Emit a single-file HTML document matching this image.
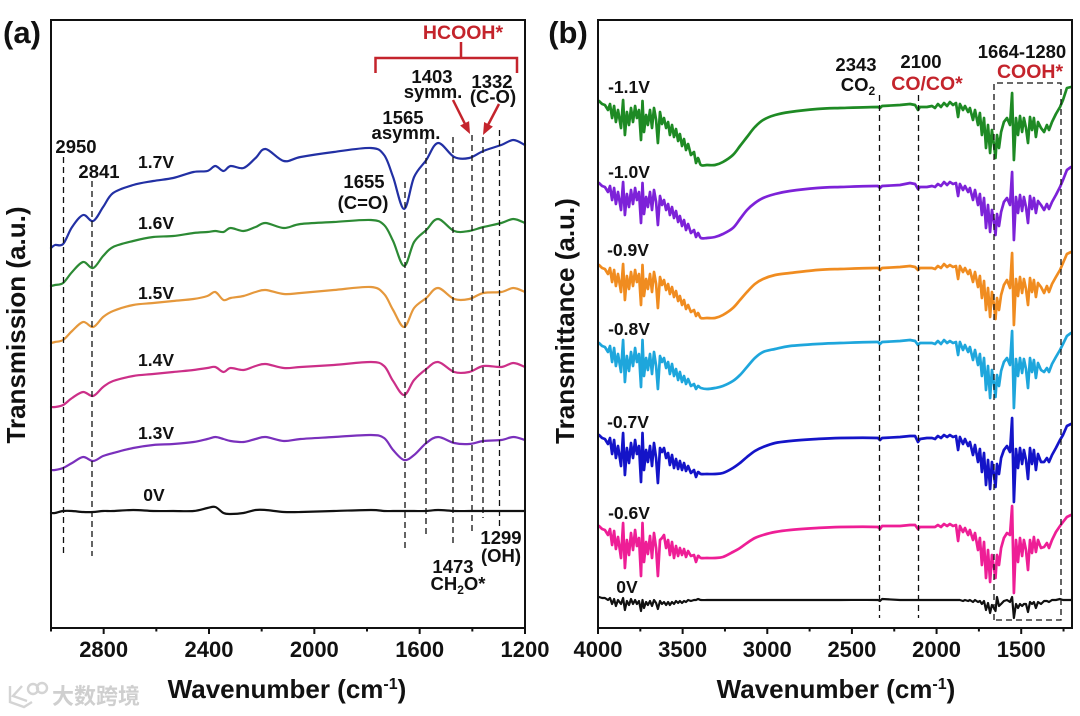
<!DOCTYPE html>
<html lang="en">
<head>
<meta charset="utf-8">
<title>FTIR spectra panels (a) and (b)</title>
<style>
html,body{margin:0;padding:0;background:#fff;}
svg{display:block;filter:blur(.35px);}
text{font-family:"Liberation Sans","Noto Sans CJK SC",sans-serif;font-weight:700;fill:#111;}
.lbl{font-size:18.5px;text-anchor:middle;}
.v{font-size:17.5px;text-anchor:middle;}
.red{fill:#c4242c;font-size:19.5px;text-anchor:middle;}
.tick{font-size:22px;text-anchor:middle;}
.title{font-size:26px;text-anchor:middle;}
.panel{font-size:31px;text-anchor:middle;}
.guide{stroke:#111;stroke-width:1.3;stroke-dasharray:6 4;fill:none;}
.frame{fill:none;stroke:#111;stroke-width:2;}
</style>
</head>
<body>
<svg id="fig" xmlns="http://www.w3.org/2000/svg" width="1080" height="716" viewBox="0 0 1080 716">
  <rect x="0" y="0" width="1080" height="716" fill="#fff"/>

  <!-- panel a -->
  <text class="panel" x="22" y="43">(a)</text>
  <g id="plotA"></g>
  <rect class="frame" x="51" y="20" width="474" height="608"/>
  <g>
    <line class="guide" x1="63.5" y1="157" x2="63.5" y2="554"/>
    <line class="guide" x1="92" y1="181" x2="92" y2="556"/>
    <line class="guide" x1="405" y1="182" x2="405" y2="551"/>
    <line class="guide" x1="426" y1="138" x2="426" y2="537"/>
    <line class="guide" x1="453" y1="137" x2="453" y2="547"/>
    <line class="guide" x1="472" y1="135" x2="472" y2="533"/>
    <line class="guide" x1="483" y1="137" x2="483" y2="518"/>
    <line class="guide" x1="499.5" y1="130" x2="499.5" y2="527"/>
  </g>
  <g fill="none" stroke="#c4242c" stroke-width="2.5">
    <path d="M375.5 73V58H517V73M461 42V58"/>
  </g>
  <g stroke="#c4242c" fill="#c4242c">
    <line x1="453" y1="100" x2="465" y2="124" stroke-width="2.5"/>
    <polygon stroke="none" points="470,134 469.1,121.1 460.1,125.5"/>
    <line x1="499" y1="104" x2="488" y2="125" stroke-width="2.5"/>
    <polygon stroke="none" points="483,135 492.9,126.6 484.1,122"/>
  </g>
  <text class="red" x="463" y="39">HCOOH*</text>
  <text class="lbl" x="76" y="153">2950</text>
  <text class="lbl" x="99" y="178">2841</text>
  <text class="lbl" x="432" y="83">1403</text>
  <text class="lbl" x="433" y="98">symm.</text>
  <text class="lbl" x="492" y="88">1332</text>
  <text class="lbl" x="493" y="103">(C-O)</text>
  <text class="lbl" x="403" y="124">1565</text>
  <text class="lbl" x="406" y="139">asymm.</text>
  <text class="lbl" x="364" y="188">1655</text>
  <text class="lbl" x="363" y="209">(C=O)</text>
  <text class="lbl" x="453" y="573">1473</text>
  <text class="lbl" x="458" y="590">CH<tspan font-size="12" dy="4">2</tspan><tspan dy="-4">O*</tspan></text>
  <text class="lbl" x="501" y="544">1299</text>
  <text class="lbl" x="501" y="562">(OH)</text>
  <text class="v" x="156" y="168">1.7V</text>
  <text class="v" x="156" y="229">1.6V</text>
  <text class="v" x="156" y="299">1.5V</text>
  <text class="v" x="156" y="366">1.4V</text>
  <text class="v" x="156" y="439">1.3V</text>
  <text class="v" x="154" y="501">0V</text>
  <text class="title" transform="translate(25,325) rotate(-90)">Transmission (a.u.)</text>
  <text class="title" x="287" y="698">Wavenumber (cm<tspan font-size="16" dy="-9">-1</tspan><tspan dy="9">)</tspan></text>

  <!-- panel b -->
  <text class="panel" x="568" y="43">(b)</text>
  <g id="plotB"></g>
  <rect class="frame" x="598" y="20" width="474" height="608"/>
  <g>
    <line class="guide" x1="879.5" y1="95" x2="879.5" y2="618"/>
    <line class="guide" x1="918.5" y1="95" x2="918.5" y2="618"/>
    <path class="guide" d="M994 620V83H1061V620Z"/>
  </g>
  <text class="lbl" x="856" y="71">2343</text>
  <text class="lbl" x="858" y="91">CO<tspan font-size="12" dy="4">2</tspan></text>
  <text class="lbl" x="921" y="68">2100</text>
  <text class="red" x="927" y="90">CO/CO*</text>
  <text class="lbl" x="1022" y="58">1664-1280</text>
  <text class="red" x="1030" y="78">COOH*</text>
  <text class="v" x="629" y="93">-1.1V</text>
  <text class="v" x="629" y="178">-1.0V</text>
  <text class="v" x="628" y="256">-0.9V</text>
  <text class="v" x="629" y="335">-0.8V</text>
  <text class="v" x="628" y="428">-0.7V</text>
  <text class="v" x="629" y="519">-0.6V</text>
  <text class="v" x="627" y="593">0V</text>
  <text class="title" transform="translate(574,321) rotate(-90)">Transmittance (a.u.)</text>
  <text class="title" x="836" y="698">Wavenumber (cm<tspan font-size="16" dy="-9">-1</tspan><tspan dy="9">)</tspan></text>

  <!-- watermark -->
  <g>
    <g fill="none" stroke="#d4d4d4" stroke-width="2.4">
      <path d="M10 686V702L24 707L32 702M22 686L13 696L27 701"/>
      <circle cx="33" cy="689" r="5"/>
      <circle cx="42" cy="688" r="5"/>
    </g>
    <text x="52" y="704" font-size="22" style="fill:#cfcfcf;font-weight:700;font-family:'Liberation Sans','Noto Sans CJK SC',sans-serif;">大数跨境</text>
  </g>
</svg>

<script>
// ---- Panel (a) data (values in arbitrary transmission units) ----
const wavenumbersA = [3000,2985,2954,2920,2878,2840,2802,2764,2688,2612,
  2536,2459,2406,2376,2345,2318,2269,2223,2185,2116,
  2052,1926,1785,1735,1701,1659,1621,1575,1530,1469,
  1412,1358,1290,1244,1200];
const seriesA17 = [380,383,384,401,413,407,421,435,443,447,
  450,456,457,462,457,462,460,470,479,467,
  471,476,480,473,451,419,451,468,485,471,
  470,477,483,488,483];
const seriesA16 = [342,343,345,356,366,360,372,381,387,391,
  392,395,396,397,396,400,397,401,405,400,
  404,406,408,403,387,362,386,398,409,397,
  397,401,405,409,405];
const seriesA15 = [285,286,288,297,306,301,311,317,323,325,
  327,329,332,336,328,330,332,336,338,334,
  335,338,341,334,318,301,320,330,340,329,
  329,335,336,340,336];
const seriesA14 = [221,221,223,230,236,232,241,247,252,254,
  256,258,260,261,256,260,258,262,264,260,
  261,263,266,262,247,233,248,259,266,256,
  256,262,261,265,261];
const seriesA13 = [158,158,160,165,171,167,172,175,180,183,
  184,186,189,191,189,187,186,189,191,187,
  189,191,193,190,178,168,173,185,191,185,
  184,187,188,191,188];
const seriesA0 = [115,115,117,117,116,116,117,117,118,117,
  117,117,120,121,115,114,115,118,118,116,
  116,117,118,117,117,117,117,117,118,117,
  117,117,117,117,117];
const ticksMajorA = [2800,2400,2000,1600,1200];
const ticksMinorA = [3000,2600,2200,1800,1400];

// ---- Panel (b) data ----
const wavenumbersB = [3994,3976,3959,3941,3929,3917,3905,3894,3882,3864,
  3852,3841,3829,3817,3805,3793,3781,3770,3758,3746,
  3737,3728,3716,3705,3693,3681,3669,3657,3646,3634,
  3622,3610,3598,3586,3575,3563,3551,3539,3527,3516,
  3504,3492,3480,3468,3451,3433,3421,3409,
  3392,3356,3309,3262,3203,3161,3120,3073,3025,2954,2866,2706,2570,2346,2334,2322,2216,2157,2127,2110,2098,2057,
  2027,2009,1992,1974,1956,1938,1921,1903,1885,1873,
  1862,1844,1832,1814,1803,1785,1773,1755,1744,1732,
  1720,1708,1696,1684,1673,1661,1652,1643,1631,1619,
  1602,1584,1566,1554,1543,1531,1519,1507,1495,1484,
  1472,1460,1448,1436,1425,1413,1401,1383,1365,1348,
  1336,1318,1295,1271,1253,1230,1206];
const seriesBm11 = [527,524,523,518,524,510,522,506,518,500,
  528,493,516,503,520,506,522,510,518,488,
  527,496,513,503,518,500,520,508,485,516,
  504,510,500,506,493,503,491,499,487,494,
  482,489,478,484,473,476,465,470,
  463,463,463,466,473,482,491,501,508,513,516,519,520,521,520,522,523,524,523,518,521,521,
  522,520,524,521,525,522,526,523,525,511,
  524,518,522,516,520,508,518,503,515,493,
  510,480,503,475,498,483,470,493,480,496,
  506,510,503,535,468,510,493,512,496,510,
  500,485,511,498,510,491,506,500,496,503,
  498,506,514,521,528,540,541];
const seriesBm10 = [445,442,441,436,442,428,440,424,436,418,
  446,413,434,421,438,424,440,428,436,405,
  445,414,431,421,436,418,438,426,403,432,
  423,428,418,424,413,421,410,417,406,412,
  402,408,398,404,395,398,391,395,
  390,390,391,394,400,409,418,425,430,434,437,440,441,442,440,442,443,445,444,439,441,441,
  442,441,444,442,446,443,446,444,445,432,
  444,438,442,436,440,428,438,423,434,413,
  430,400,423,396,418,406,393,414,402,416,
  426,430,423,456,388,431,415,433,417,431,
  421,405,432,419,430,415,427,423,418,424,
  419,426,433,441,448,458,461];
const seriesBm09 = [363,360,359,354,360,346,358,342,354,336,
  364,328,352,339,356,342,358,346,354,323,
  363,332,349,339,354,336,356,344,320,351,
  343,348,338,344,334,341,331,337,327,332,
  323,328,319,323,316,318,312,315,
  310,310,310,313,320,328,336,344,349,353,355,358,359,360,358,360,361,362,361,358,360,360,
  360,359,362,360,364,361,363,361,362,349,
  362,356,360,354,358,346,356,341,352,330,
  347,318,340,311,336,323,309,330,318,333,
  343,348,340,375,303,349,332,351,335,349,
  339,323,350,336,348,331,345,341,335,342,
  336,344,351,358,365,374,376];
const seriesBm08 = [285,282,281,276,282,266,280,262,274,256,
  288,246,272,257,276,262,280,266,274,241,
  288,252,270,258,274,254,276,262,239,272,
  266,270,260,266,254,264,252,259,248,256,
  246,252,244,249,242,244,239,242,
  240,239,240,242,247,253,261,270,276,279,282,284,285,286,284,286,287,288,287,283,285,285,
  285,284,287,284,288,285,287,285,286,273,
  286,278,283,276,281,268,278,263,274,252,
  270,238,262,230,258,244,231,253,242,257,
  266,270,263,297,220,269,252,270,255,269,
  259,240,270,256,268,250,265,258,256,260,
  256,264,271,278,284,292,295];
const seriesBm07 = [193,190,189,184,190,174,188,170,182,162,
  195,153,180,165,185,170,188,174,182,146,
  195,158,178,166,182,162,185,170,145,180,
  176,180,170,175,163,173,160,169,159,167,
  158,165,157,162,155,158,151,156,
  154,154,154,155,160,165,171,177,181,185,187,189,190,190,188,190,191,192,192,186,189,190,
  190,189,192,190,193,191,193,191,192,178,
  191,184,189,182,186,173,183,166,179,156,
  175,143,168,139,166,153,141,164,154,170,
  178,182,176,210,126,179,160,180,164,178,
  168,149,180,164,178,158,174,166,166,170,
  166,173,180,188,193,202,204];
const seriesBm06 = [102,99,98,93,99,83,97,79,91,70,
  105,60,88,73,95,78,98,82,90,52,
  105,66,86,74,92,70,95,80,52,88,
  90,93,80,88,73,86,70,82,72,80,
  73,79,71,77,72,73,66,72,
  70,70,70,71,76,80,85,90,93,96,98,100,101,101,99,102,102,103,103,99,101,101,
  101,101,103,101,104,102,104,102,103,87,
  102,96,100,93,98,88,95,78,90,63,
  86,50,78,46,73,60,50,73,63,80,
  90,95,93,122,35,88,66,90,72,88,
  78,58,88,75,91,76,88,80,81,85,
  80,88,96,102,106,111,113];
const seriesB0 = [31,30,30,28,30,24,29,22,28,24,
  30,18,27,23,29,24,28,24,27,17,
  28,20,26,23,27,22,28,25,19,27,
  24,26,23,26,23,26,24,27,25,27,
  25,27,26,28,27,28,28,29,
  28,28,28,28,28,28,28,28,28,28,28,28,28,28,27,29,28,28,28,28,28,28,
  28,28,28,28,28,28,28,28,28,28,
  28,27,28,27,28,26,28,26,27,24,
  27,18,25,15,23,20,17,31,22,24,
  27,28,26,31,10,24,20,24,22,24,
  24,16,26,24,26,20,26,24,27,27,
  26,28,28,29,28,28,28];
const ticksMajorB = [4000,3500,3000,2500,2000,1500];
const ticksMinorB = [3750,3250,2750,2250,1750,1250];

const NS = 'http://www.w3.org/2000/svg';
const PLOT_TOP = 20, PLOT_BOTTOM = 628;
const Y_MIN = 0, Y_MAX = 608;
const SMOOTH_FROM = 47, SMOOTH_TO = 61;

function yScale(v) {
  return PLOT_BOTTOM - (v - Y_MIN) / (Y_MAX - Y_MIN) * (PLOT_BOTTOM - PLOT_TOP);
}
function xScaleA(w) {
  return 51 + (3000 - w) / 1800 * 474;
}
function xScaleB(w) {
  return 598 + (4000 - w) / 2800 * 474;
}

function bezierSegment(xs, ys, i) {
  const i0 = Math.max(0, i - 1), i3 = Math.min(xs.length - 1, i + 2);
  const c1x = xs[i] + (xs[i + 1] - xs[i0]) / 6, c1y = ys[i] + (ys[i + 1] - ys[i0]) / 6;
  const c2x = xs[i + 1] - (xs[i3] - xs[i]) / 6, c2y = ys[i + 1] - (ys[i3] - ys[i]) / 6;
  return 'C' + c1x.toFixed(1) + ' ' + c1y.toFixed(1) + ' ' + c2x.toFixed(1) + ' ' + c2y.toFixed(1) + ' ' + xs[i + 1].toFixed(1) + ' ' + ys[i + 1].toFixed(1);
}
function smoothPath(xs, ys) {
  let d = 'M' + xs[0].toFixed(1) + ' ' + ys[0].toFixed(1);
  for (let i = 0; i < xs.length - 1; i++) {
    d += bezierSegment(xs, ys, i);
  }
  return d;
}
function mixedPath(xs, ys) {
  let d = 'M' + xs[0].toFixed(1) + ' ' + ys[0].toFixed(1);
  for (let i = 0; i < xs.length - 1; i++) {
    if (i >= SMOOTH_FROM && i < SMOOTH_TO) {
      d += bezierSegment(xs, ys, i);
    } else {
      d += 'L' + xs[i + 1].toFixed(1) + ' ' + ys[i + 1].toFixed(1);
    }
  }
  return d;
}

function drawSeries(parent, name, d, color, width) {
  const p = document.createElementNS(NS, 'path');
  
  
  p.setAttribute('d', d);
  p.setAttribute('fill', 'none');
  p.setAttribute('stroke', color);
  p.setAttribute('stroke-width', width);
  p.setAttribute('stroke-linejoin', 'round');
  p.setAttribute('stroke-linecap', 'round');
  parent.appendChild(p);
}

function drawTick(parent, x, len) {
  const t = document.createElementNS(NS, 'line');
  
  
  t.setAttribute('x1', x);
  t.setAttribute('x2', x);
  t.setAttribute('y1', PLOT_BOTTOM);
  t.setAttribute('y2', PLOT_BOTTOM + len);
  t.setAttribute('stroke', '#111');
  t.setAttribute('stroke-width', 2);
  parent.appendChild(t);
}

function drawTickLabel(parent, x, value) {
  const t = document.createElementNS(NS, 'text');
  
  
  t.setAttribute('class', 'tick');
  t.setAttribute('x', x);
  t.setAttribute('y', 657);
  t.textContent = value;
  parent.appendChild(t);
}

const plotA = document.getElementById('plotA');
const plotB = document.getElementById('plotB');

const xsA = wavenumbersA.map(xScaleA);
drawSeries(plotA, 'series-1-7v', smoothPath(xsA, seriesA17.map(yScale)), '#2230a4', 2.2);
drawSeries(plotA, 'series-1-6v', smoothPath(xsA, seriesA16.map(yScale)), '#2c8a34', 2.2);
drawSeries(plotA, 'series-1-5v', smoothPath(xsA, seriesA15.map(yScale)), '#e5983c', 2.2);
drawSeries(plotA, 'series-1-4v', smoothPath(xsA, seriesA14.map(yScale)), '#cc2f88', 2.2);
drawSeries(plotA, 'series-1-3v', smoothPath(xsA, seriesA13.map(yScale)), '#7a30bc', 2.2);
drawSeries(plotA, 'series-0v-a', smoothPath(xsA, seriesA0.map(yScale)), '#111111', 2.2);

const xsB = wavenumbersB.map(xScaleB);
drawSeries(plotB, 'series-m1-1v', mixedPath(xsB, seriesBm11.map(yScale)), '#1e8a24', 2.7);
drawSeries(plotB, 'series-m1-0v', mixedPath(xsB, seriesBm10.map(yScale)), '#7d22d8', 2.7);
drawSeries(plotB, 'series-m0-9v', mixedPath(xsB, seriesBm09.map(yScale)), '#f08c20', 2.7);
drawSeries(plotB, 'series-m0-8v', mixedPath(xsB, seriesBm08.map(yScale)), '#1ea6dc', 2.7);
drawSeries(plotB, 'series-m0-7v', mixedPath(xsB, seriesBm07.map(yScale)), '#1414c8', 2.7);
drawSeries(plotB, 'series-m0-6v', mixedPath(xsB, seriesBm06.map(yScale)), '#ee1e96', 2.7);
drawSeries(plotB, 'series-0v-b', mixedPath(xsB, seriesB0.map(yScale)), '#111111', 2.2);

ticksMajorA.forEach(function (w) {
  drawTick(plotA, xScaleA(w), 6);
  drawTickLabel(plotA, xScaleA(w), w);
});
ticksMinorA.forEach(function (w) {
  drawTick(plotA, xScaleA(w), 3.5);
});
ticksMajorB.forEach(function (w) {
  drawTick(plotB, xScaleB(w), 6);
  drawTickLabel(plotB, xScaleB(w), w);
});
ticksMinorB.forEach(function (w) {
  drawTick(plotB, xScaleB(w), 3.5);
});
</script>
</body>
</html>
